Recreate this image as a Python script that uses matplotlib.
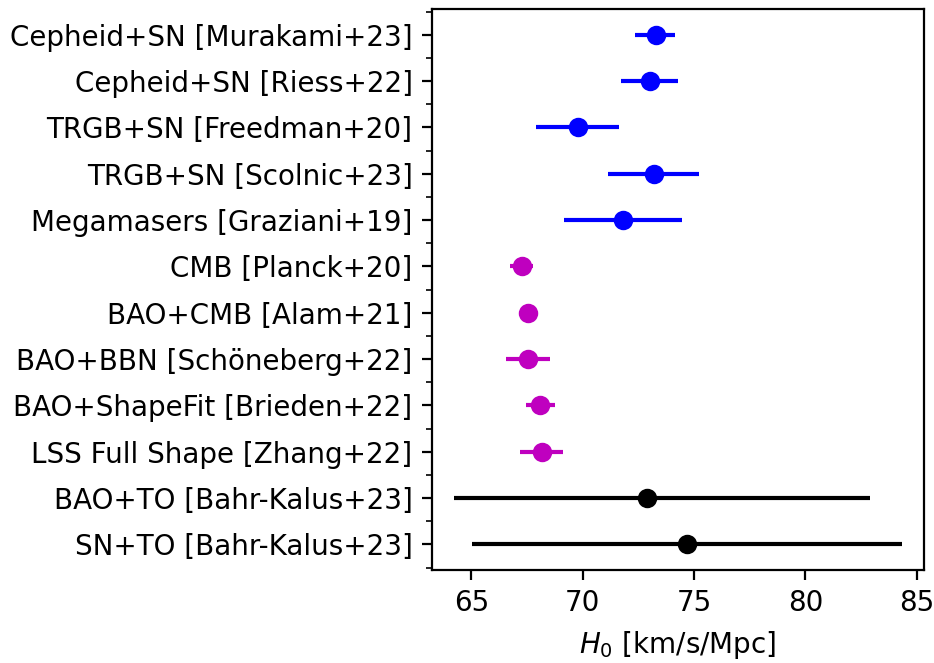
import numpy as np
import matplotlib
matplotlib.use("Agg")
import matplotlib.pyplot as plt
from matplotlib.ticker import MultipleLocator

# H0 measurements, top to bottom as shown
labels = [
    "Cepheid+SN [Murakami+23]",
    "Cepheid+SN [Riess+22]",
    "TRGB+SN [Freedman+20]",
    "TRGB+SN [Scolnic+23]",
    "Megamasers [Graziani+19]",
    "CMB [Planck+20]",
    "BAO+CMB [Alam+21]",
    "BAO+BBN [Schöneberg+22]",
    "BAO+ShapeFit [Brieden+22]",
    "LSS Full Shape [Zhang+22]",
    "BAO+TO [Bahr-Kalus+23]",
    "SN+TO [Bahr-Kalus+23]",
]
h0 = [73.29, 73.02, 69.8, 73.22, 71.8, 67.27, 67.55, 67.55, 68.1, 68.19, 72.9, 74.7]
err_lo = [0.92, 1.28, 1.88, 2.1, 2.63, 0.55, 0.35, 1.0, 0.65, 1.0, 8.66, 9.65]
err_hi = [0.85, 1.28, 1.82, 2.02, 2.67, 0.52, 0.35, 0.97, 0.66, 0.95, 10.0, 9.62]
colors = ["b"] * 5 + ["m"] * 5 + ["k"] * 2

fig = plt.figure(figsize=(4.67, 3.315), dpi=200)
ax = fig.add_axes([0.4625, 0.1403, 0.5268, 0.8457])

ypos = np.arange(len(labels))[::-1]
for y, x, lo, hi, c in zip(ypos, h0, err_lo, err_hi, colors):
    ax.errorbar(x, y, xerr=[[lo], [hi]], fmt="o", color=c)

ax.set_yticks(ypos)
ax.set_yticklabels(labels)
ax.yaxis.set_minor_locator(MultipleLocator(0.5))
ax.set_xticks([65, 70, 75, 80, 85])
ax.set_xlabel(r"$H_0$ [km/s/Mpc]")

fig.savefig("out.png", dpi=200)
